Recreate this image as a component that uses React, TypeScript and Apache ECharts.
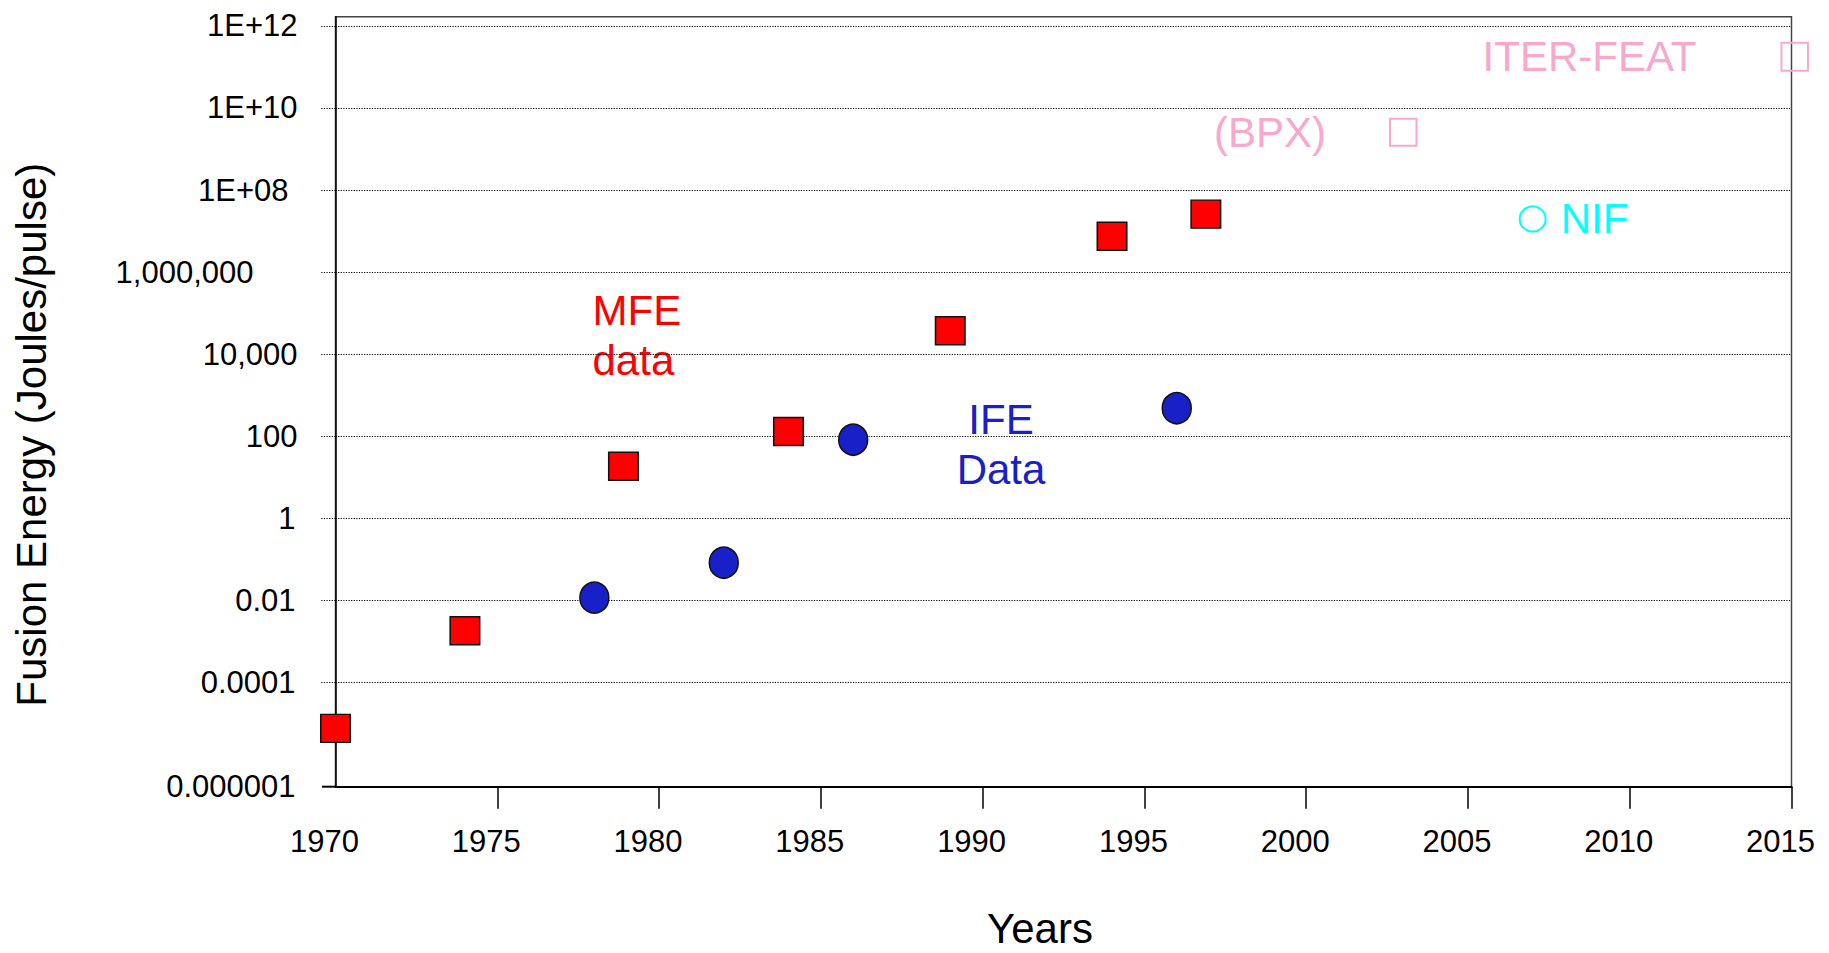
import React, { useEffect, useRef } from "react";
import * as echarts from "echarts";

const FONT = '"Liberation Sans", Arial, Helvetica, sans-serif';

// Axis ticks / labels
const xMin = 1970;
const xMax = 2015;
const xInterval = 5;
const xTickYears = [1975, 1980, 1985, 1990, 1995, 2000, 2005, 2010, 2015];
const yTickValues = [1e12, 1e10, 1e8, 1e6, 1e4, 100, 1, 0.01, 0.0001, 0.000001];
const yTickLabels = ["1E+12", "1E+10", "1E+08", "1,000,000", "10,000", "100", "1", "0.01", "0.0001", "0.000001"];
const yGridValues = [1e12, 1e10, 1e8, 1e6, 1e4, 100, 1, 0.01, 0.0001];
const yLogMin = -6.534;
const yLogMax = 12.224;

// MFE data (red squares)
const mfeYears = [1970, 1974, 1978.9, 1984, 1989, 1994, 1996.9];
const mfeEnergy = [7.7e-6, 1.85e-3, 18.7, 131, 37300, 7.5e6, 2.6e7];

// IFE data (blue circles)
const ifeYears = [1978, 1982, 1986, 1996];
const ifeEnergy = [0.0118, 0.0838, 83, 486];

// Projected devices
const nifYears = [2007];
const nifEnergy = [1.98e7];
const bpxYears = [2003];
const bpxEnergy = [2.58e9];
const iterYears = [2015.1];
const iterEnergy = [1.78e11];

const mfeText = "MFE\ndata";
const ifeText = "IFE\nData";

const RED = "#FF0000";
const BLUE = "#1820C8";
const PINK = "#F8A8CC";
const CYAN = "#00FFFF";

const toPoints = (xs: number[], ys: number[]) => xs.map((x, i) => [x, Math.log10(ys[i])]);

export default function App() {
  const ref = useRef<HTMLDivElement>(null);

  useEffect(() => {
    if (!ref.current) return;
    const chart = echarts.init(ref.current, null, { renderer: "svg" });

    const labelLog = yTickValues.map((v) => Math.log10(v));
    const gridLog = yGridValues.map((v) => Math.log10(v));

    const yFormatter = (val: number) => {
      const i = labelLog.findIndex((l) => Math.abs(l - val) < 1e-6);
      if (i < 0) return "";
      const t = yTickLabels[i];
      if (t === "1,000,000") return "{w|" + t + "}";
      if (t === "1E+08") return "{e|" + t + "}";
      if (t === "0.000001") return "{b|" + t + "}";
      if (t.startsWith("0.") || t === "1") return "{s|" + t + "}";
      return "{n|" + t + "}";
    };

    const base = { fontSize: 31, fontFamily: FONT, color: "#000" };
    const dotted = { color: "#000", width: 1.2, type: [1.2, 1.4] as number[] };

    chart.setOption({
      animation: false,
      backgroundColor: "#fff",
      grid: {
        left: 335.5,
        right: 37.5,
        top: 16.7,
        bottom: 166.3,
        show: true,
        borderColor: "#444",
        borderWidth: 1.5,
        backgroundColor: "rgba(0,0,0,0)",
        containLabel: false,
        outerBoundsMode: "none",
      },
      xAxis: {
        type: "value",
        min: xMin,
        max: xMax,
        interval: xInterval,
        name: "Years",
        nameLocation: "middle",
        nameGap: 121,
        nameTextStyle: {
          fontSize: 42,
          lineHeight: 42,
          fontFamily: FONT,
          color: "#000",
          padding: [0, 47, 0, 0],
        },
        axisLine: { show: true, onZero: false, lineStyle: { color: "#000", width: 2 } },
        axisTick: { show: true, length: 22, customValues: xTickYears, lineStyle: { color: "#000", width: 1.5 } },
        axisLabel: { ...base, margin: 39, padding: [0, 22, 0, 0], formatter: (v: number) => String(v) },
        splitLine: { show: false },
      },
      yAxis: {
        type: "value",
        min: yLogMin,
        max: yLogMax,
        name: "Fusion Energy (Joules/pulse)",
        nameLocation: "middle",
        nameGap: 283,
        nameTextStyle: { fontSize: 42, fontFamily: FONT, color: "#000", padding: [0, 66, 0, 0] },
        axisLine: { show: true, onZero: false, lineStyle: { color: "#000", width: 1.5 } },
        axisTick: {
          show: true,
          length: 15,
          customValues: gridLog,
          lineStyle: dotted,
        },
        splitLine: { show: true, lineStyle: dotted },
        axisLabel: {
          customValues: labelLog,
          margin: 38,
          formatter: yFormatter,
          rich: {
            n: { ...base },
            s: { ...base, padding: [0, 2, 0, 0] },
            w: { ...base, padding: [0, 44, 0, 0] },
            e: { ...base, padding: [0, 9, 0, 0] },
            b: { ...base, padding: [44, 2, 0, 0] },
          },
        },
      },
      graphic: [
        {
          type: "line",
          shape: { x1: 322, y1: 786.7, x2: 336, y2: 786.7 },
          style: { stroke: "#000", lineWidth: 2 },
          silent: true,
        },
        {
          type: "text",
          x: 592.5,
          y: 285,
          style: {
            text: mfeText,
            font: "42px " + FONT,
            fill: RED,
            lineHeight: 50,
            align: "left",
            verticalAlign: "top",
          },
          silent: true,
        },
        {
          type: "text",
          x: 1001,
          y: 394.5,
          style: {
            text: ifeText,
            font: "42px " + FONT,
            fill: BLUE,
            lineHeight: 50,
            align: "center",
            verticalAlign: "top",
          },
          silent: true,
        },
      ],
      series: [
        {
          type: "scatter",
          name: "MFE data",
          data: toPoints(mfeYears, mfeEnergy),
          symbol: "rect",
          symbolSize: [29.5, 28],
          itemStyle: { color: RED, borderColor: "#111", borderWidth: 1.5, opacity: 1 },
          clip: false,
          silent: true,
          z: 3,
        },
        {
          type: "scatter",
          name: "IFE Data",
          data: toPoints(ifeYears, ifeEnergy),
          symbol: "circle",
          symbolSize: [29, 31],
          itemStyle: { color: BLUE, borderColor: "#111", borderWidth: 1.5, opacity: 1 },
          clip: false,
          silent: true,
          z: 3,
        },
        {
          type: "scatter",
          name: "NIF",
          data: toPoints(nifYears, nifEnergy).map((p) => ({ value: p, name: "NIF" })),
          symbol: "circle",
          symbolSize: [26, 25],
          itemStyle: { color: "rgba(0,0,0,0)", borderColor: CYAN, borderWidth: 2, opacity: 1 },
          label: { show: true, position: "right", distance: 14, formatter: "{b}", color: CYAN, fontSize: 42, fontFamily: FONT },
          clip: false,
          silent: true,
          z: 3,
        },
        {
          type: "scatter",
          name: "(BPX)",
          data: toPoints(bpxYears, bpxEnergy).map((p) => ({ value: p, name: "(BPX)" })),
          symbol: "rect",
          symbolSize: [26.5, 27],
          itemStyle: { color: "rgba(0,0,0,0)", borderColor: PINK, borderWidth: 2, opacity: 1 },
          label: { show: true, position: "left", distance: 63, formatter: "{b}", color: PINK, fontSize: 42, fontFamily: FONT },
          clip: false,
          silent: true,
          z: 3,
        },
        {
          type: "scatter",
          name: "ITER-FEAT",
          data: toPoints(iterYears, iterEnergy).map((p) => ({ value: p, name: "ITER-FEAT" })),
          symbol: "rect",
          symbolSize: [26.5, 28],
          itemStyle: { color: "rgba(0,0,0,0)", borderColor: PINK, borderWidth: 2, opacity: 1 },
          label: { show: true, position: "left", distance: 84, formatter: "{b}", color: PINK, fontSize: 42, fontFamily: FONT },
          clip: false,
          silent: true,
          z: 3,
        },
      ],
    });

    return () => chart.dispose();
  }, []);

  return (
    <div
      ref={ref}
      style={{ position: "fixed", left: 0, top: 0, width: 1829, height: 953, background: "#fff" }}
    />
  );
}
